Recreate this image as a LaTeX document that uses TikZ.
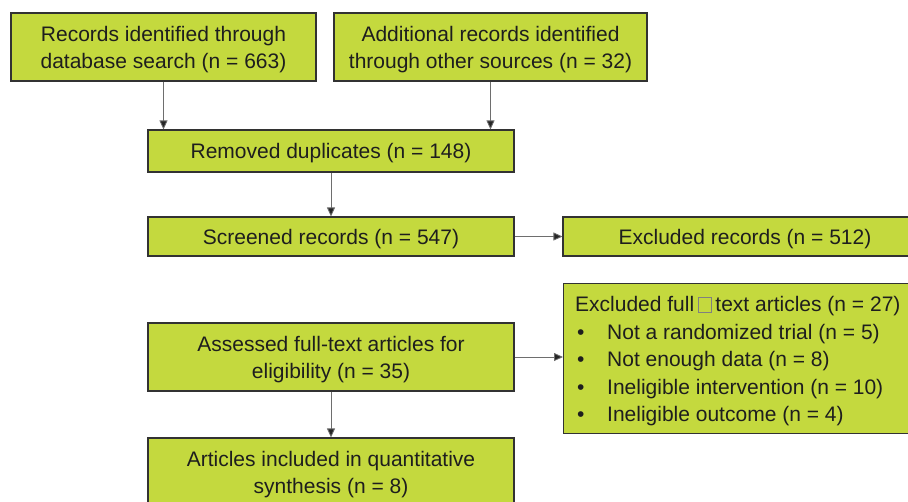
\documentclass[tikz,border=0pt]{standalone}
\usepackage{fontspec}
\setmainfont{Liberation Sans}
\usetikzlibrary{arrows.meta}
\definecolor{boxfill}{RGB}{196,217,62}
\definecolor{boxline}{RGB}{50,50,50}
\definecolor{txt}{RGB}{30,30,30}
\definecolor{conn}{RGB}{110,110,110}
\newcommand{\tofubox}{{\setlength\fboxsep{0pt}\setlength\fboxrule{0.6pt}\color{gray}\fbox{\rule{0pt}{14pt}\hspace{13pt}}}}
\begin{document}
\begin{tikzpicture}[x=1pt,y=-1pt,
  box/.style={draw=boxline, fill=boxfill, line width=1.1pt, rectangle, inner sep=0pt, text=txt, align=center,
    text depth=0pt, font=\fontsize{21}{27}\selectfont},
  conn/.style={draw=conn, line width=0.8pt, -{Triangle[length=9pt,width=8pt,fill=black!85]}}]
\useasboundingbox (0,0) rectangle (908,501);
\node[box, minimum width=305pt, minimum height=68pt] (b1) at (163.5,47) {Records identified through\\database search (n = 663)};
\node[box, minimum width=313pt, minimum height=68pt] (b2) at (490.5,47) {Additional records identified\\through other sources (n = 32)};
\node[box, minimum width=366pt, minimum height=42pt] (rem) at (331,151) {Removed duplicates (n = 148)};
\node[box, minimum width=366pt, minimum height=39pt] (scr) at (331,236.5) {Screened records (n = 547)};
\node[box, minimum width=364pt, minimum height=39pt] (exr) at (745,236.5) {Excluded records (n = 512)};
\node[box, minimum width=366pt, minimum height=68pt] (ass) at (331,357) {Assessed full-text articles for\\eligibility (n = 35)};
\node[box, minimum width=366pt, minimum height=68pt] (art) at (331,472) {Articles included in quantitative\\synthesis (n = 8)};
\node[box, minimum width=360pt, minimum height=150pt, anchor=north west] (exf) at (563,283) {};
\node[anchor=west, align=left, inner sep=0pt, text=txt, font=\fontsize{21}{27.5}\selectfont] (exftext) at ([xshift=12pt,yshift=-3pt]exf.west)
  {Excluded full\,\tofubox\,text articles (n = 27)\\
   \hspace{2pt}\makebox[30pt][l]{•}Not a randomized trial (n = 5)\\
   \hspace{2pt}\makebox[30pt][l]{•}Not enough data (n = 8)\\
   \hspace{2pt}\makebox[30pt][l]{•}Ineligible intervention (n = 10)\\
   \hspace{2pt}\makebox[30pt][l]{•}Ineligible outcome (n = 4)};
\draw[conn] (b1.south) -- (b1.south |- rem.north);
\draw[conn] (b2.south) -- (b2.south |- rem.north);
\draw[conn] (rem.south) -- (scr.north);
\draw[conn] (scr.east) -- (exr.west);
\draw[conn] (ass.east) -- (ass.east -| exf.west);
\draw[conn] (ass.south) -- (art.north);
\end{tikzpicture}
\end{document}
